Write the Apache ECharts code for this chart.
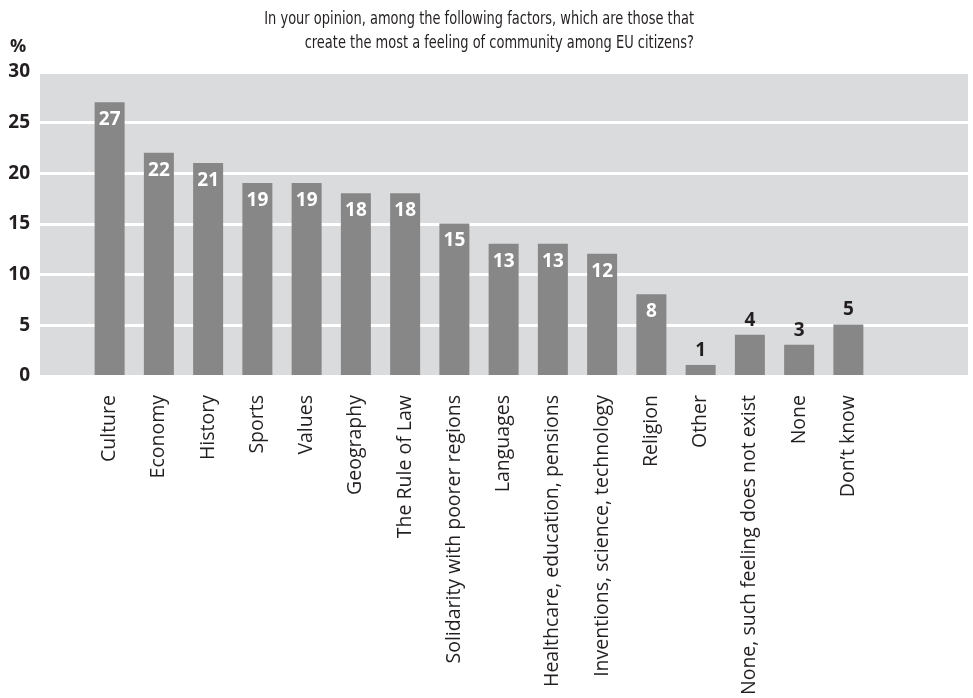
<!DOCTYPE html>
<html>
<head>
<meta charset="utf-8">
<script src="https://cdn.jsdelivr.net/npm/echarts@6/dist/echarts.min.js"></script>
<style>
  html, body { margin: 0; padding: 0; background: #fff; }
  #chart { width: 973px; height: 698px; }
</style>
</head>
<body>
<div id="chart"></div>
<script>
// Factors creating a feeling of community among EU citizens (%)
const categories = [
  'Culture', 'Economy', 'History', 'Sports', 'Values', 'Geography',
  'The Rule of Law', 'Solidarity with poorer regions', 'Languages',
  'Healthcare, education, pensions', 'Inventions, science, technology',
  'Religion', 'Other', 'None, such feeling does not exist', 'None', 'Don\u2019t know'
];
const values = [27, 22, 21, 19, 19, 18, 18, 15, 13, 13, 12, 8, 1, 4, 3, 5];
const yTicks = [0, 5, 10, 15, 20, 25, 30];
const titleLines = [
  'In your opinion, among the following factors, which are those that',
  'create the most a feeling of community among EU citizens?'
];

const FONT = '"Open Sans", "Noto Sans", sans-serif';
const TITLE_FONT = '"Liberation Sans Narrow", "DejaVu Sans Condensed", "Open Sans", sans-serif';
const yMin = yTicks[0], yMax = yTicks[yTicks.length - 1];
const yStep = yTicks[1] - yTicks[0];

const chart = echarts.init(document.getElementById('chart'), null, { renderer: 'canvas' });

chart.setOption({
  animation: false,
  backgroundColor: '#ffffff',
  graphic: [
    {
      // question text, right-aligned and horizontally condensed
      type: 'text',
      x: 694,
      y: 8,
      scaleX: 0.85,
      style: {
        text: titleLines.join('\n'),
        align: 'right',
        font: '17px ' + TITLE_FONT,
        lineHeight: 24,
        fill: '#231f20'
      }
    },
    {
      type: 'text',
      x: 10,
      y: 38,
      style: { text: '%', font: 'bold 18px ' + FONT, fill: '#231f20' }
    }
  ],
  grid: [
    // full-width panel carrying the grey backdrop and white gridlines
    { left: 40, right: 5, top: 72, bottom: 322, show: true, backgroundColor: '#dadbdc', borderWidth: 0 },
    // plotting area for the bars
    { left: 85, right: 100, top: 72, bottom: 322 }
  ],
  xAxis: [
    { gridIndex: 0, type: 'value', show: false, min: 0, max: 1 },
    {
      gridIndex: 1,
      type: 'category',
      data: categories,
      axisLine: { show: false },
      axisTick: { show: false },
      axisLabel: {
        rotate: 90,
        interval: 0,
        margin: 20,
        fontFamily: FONT,
        fontSize: 19.5,
        color: '#231f20'
      }
    }
  ],
  yAxis: [
    {
      gridIndex: 0,
      type: 'value',
      min: yMin, max: yMax, interval: yStep,
      axisLine: { show: false },
      axisTick: { show: false },
      axisLabel: {
        margin: 10,
        fontFamily: FONT,
        fontSize: 19,
        fontWeight: 'bold',
        color: '#231f20'
      },
      splitLine: {
        show: true,
        lineStyle: { color: '#ffffff', width: 3 }
      }
    },
    {
      gridIndex: 1,
      type: 'value',
      min: yMin, max: yMax, interval: yStep,
      show: false,
      splitLine: { show: false }
    }
  ],
  series: [{
    type: 'bar',
    xAxisIndex: 1,
    yAxisIndex: 1,
    barWidth: 30,
    itemStyle: { color: '#878787' },
    data: values.map(v => ({
      value: v,
      label: v >= 6
        ? { position: 'insideTop', distance: 8, color: '#ffffff' }
        : { position: 'top', distance: 5, color: '#231f20' }
    })),
    label: {
      show: true,
      fontFamily: FONT,
      fontSize: 19,
      fontWeight: 'bold'
    }
  }]
});
</script>
</body>
</html>
